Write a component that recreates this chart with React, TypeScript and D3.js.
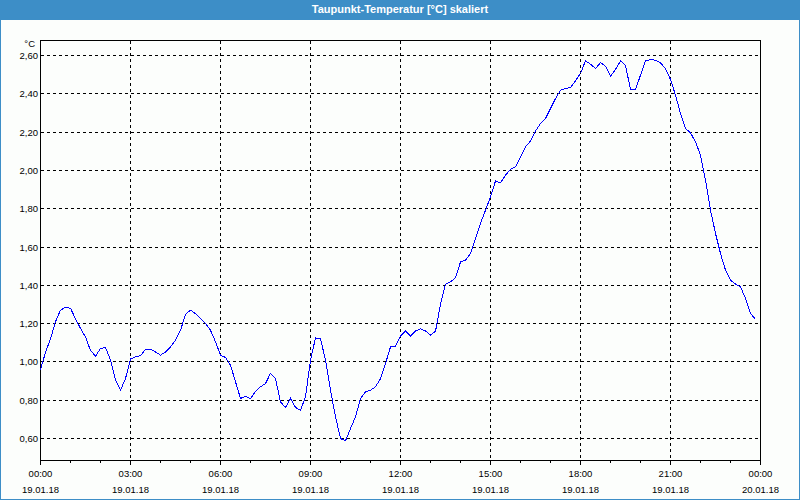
import React from "react";
import * as d3 from "d3";

// Dew point temperature, 10-minute samples starting 19.01.18 00:00
const values: number[] = [
  0.96, 1.05, 1.12, 1.21, 1.27, 1.285, 1.28, 1.225, 1.175, 1.13,
  1.06, 1.03, 1.07, 1.075, 1.01, 0.905, 0.852, 0.913, 1.015, 1.026,
  1.033, 1.065, 1.066, 1.052, 1.035, 1.052, 1.078, 1.113, 1.165, 1.249,
  1.27, 1.252, 1.226, 1.2, 1.165, 1.105, 1.035, 1.023, 0.983, 0.896,
  0.809, 0.821, 0.807, 0.847, 0.87, 0.887, 0.94, 0.913, 0.791, 0.762,
  0.809, 0.762, 0.748, 0.817, 1.01, 1.125, 1.122, 1.009, 0.852, 0.713,
  0.6, 0.588, 0.652, 0.713, 0.809, 0.843, 0.852, 0.87, 0.913, 0.992,
  1.078, 1.082, 1.135, 1.162, 1.134, 1.162, 1.172, 1.162, 1.14, 1.16,
  1.3, 1.406, 1.418, 1.439, 1.522, 1.531, 1.566, 1.644, 1.723, 1.792,
  1.862, 1.945, 1.935, 1.975, 2.005, 2.018, 2.07, 2.123, 2.153, 2.206,
  2.245, 2.271, 2.323, 2.375, 2.419, 2.428, 2.433, 2.468, 2.506, 2.572,
  2.555, 2.532, 2.563, 2.544, 2.492, 2.527, 2.572, 2.549, 2.423, 2.423,
  2.497, 2.572, 2.579, 2.575, 2.561, 2.532, 2.475, 2.393, 2.297, 2.219,
  2.196, 2.149, 2.08, 1.949, 1.792, 1.671, 1.566, 1.479, 1.427, 1.406,
  1.392, 1.331, 1.253, 1.222,
];
const sampleMinutes = 10;

const yTicks: number[] = [0.6, 0.8, 1.0, 1.2, 1.4, 1.6, 1.8, 2.0, 2.2, 2.4, 2.6];
const xTickHours: number[] = [0, 3, 6, 9, 12, 15, 18, 21, 24];
const xTimeLabels: string[] = ["00:00", "03:00", "06:00", "09:00", "12:00", "15:00", "18:00", "21:00", "00:00"];
const xDateLabels: string[] = ["19.01.18", "19.01.18", "19.01.18", "19.01.18", "19.01.18", "19.01.18", "19.01.18", "19.01.18", "20.01.18"];
const minorTickHours: number[] = d3.range(0, 25, 1);

const title = "Taupunkt-Temperatur [°C] skaliert";
const unit = "°C";

const W = 800;
const H = 500;
const BLUE = "#3d8ec7";
const FONT = "'Liberation Sans', Arial, sans-serif";

export default function App() {
  const left = 40.5, right = 760.5, top = 40.5, bottom = 460.5;
  const x = d3.scaleLinear().domain([0, 24]).range([left, right]);
  const y = d3.scaleLinear().domain([0.6, 2.6]).range([438.5, 55.5]);

  const line = d3
    .line<number>()
    .x((_, i) => x((i * sampleMinutes) / 60))
    .y((d) => y(d));

  return (
    <svg
      width={W}
      height={H}
      style={{ position: "absolute", left: 0, top: 0, display: "block" }}
      fontFamily={FONT}
    >
      <rect x={0} y={0} width={W} height={H} fill="#fcfefc" />
      <rect x={0.5} y={0.5} width={W - 1} height={H - 1} fill="none" stroke={BLUE} strokeWidth={1} shapeRendering="crispEdges" />
      <rect x={0} y={0} width={W} height={20} fill={BLUE} />
      <text x={W / 2} y={12.5} textAnchor="middle" fill="#ffffff" fontSize={11} fontWeight="bold">
        {title}
      </text>

      {/* horizontal grid */}
      {yTicks.map((t) => (
        <line key={"h" + t} x1={left} x2={right} y1={y(t)} y2={y(t)} stroke="#000" strokeDasharray="3,3" shapeRendering="crispEdges" />
      ))}
      {/* vertical grid */}
      {xTickHours.slice(1, -1).map((h) => (
        <line key={"v" + h} x1={x(h)} x2={x(h)} y1={top} y2={bottom} stroke="#000" strokeDasharray="3,3" shapeRendering="crispEdges" />
      ))}

      {/* frame */}
      <rect x={left} y={top} width={right - left} height={bottom - top} fill="none" stroke="#000" shapeRendering="crispEdges" />

      {/* ticks */}
      {minorTickHours.map((h) => (
        <line key={"t" + h} x1={x(h)} x2={x(h)} y1={bottom} y2={bottom + (h % 3 === 0 ? 4 : 2)} stroke="#000" shapeRendering="crispEdges" />
      ))}

      {/* y labels */}
      {yTicks.map((t) => (
        <text key={"yl" + t} x={38} y={y(t) + 3.5} textAnchor="end" fontSize={9.5} fill="#000">
          {t.toFixed(2).replace(".", ",")}
        </text>
      ))}
      <text x={35} y={47} textAnchor="end" fontSize={9.5} fill="#000">{unit}</text>

      {/* x labels */}
      {xTickHours.map((h, i) => (
        <g key={"xl" + h}>
          <text x={x(h)} y={477} textAnchor="middle" fontSize={9.5} fill="#000">{xTimeLabels[i]}</text>
          <text x={x(h)} y={492.5} textAnchor="middle" fontSize={9.5} fill="#000">{xDateLabels[i]}</text>
        </g>
      ))}

      {/* data */}
      <path d={line(values) || ""} fill="none" stroke="#0000ff" strokeWidth={1} shapeRendering="crispEdges" />
    </svg>
  );
}
